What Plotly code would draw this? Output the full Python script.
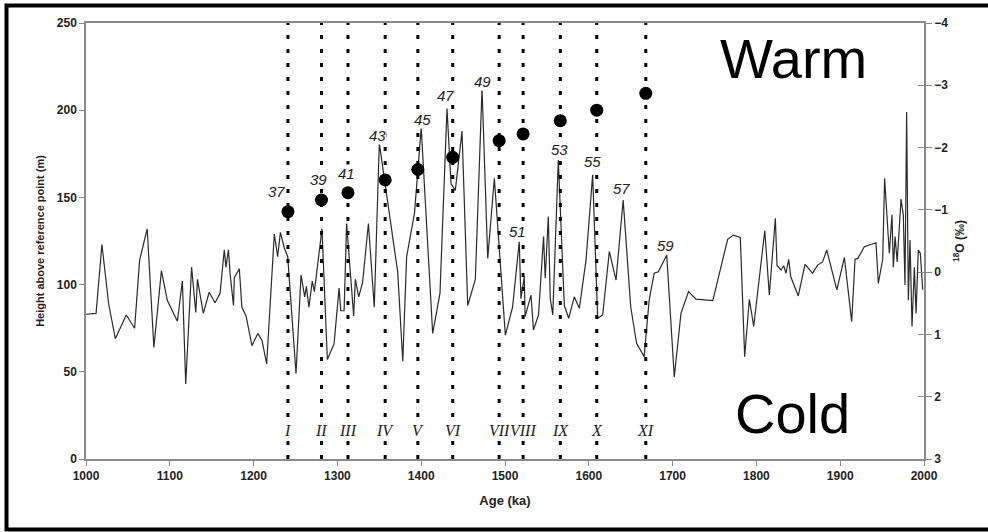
import plotly.graph_objects as go

# ---- data ----
age = [1000, 1012, 1019, 1027, 1035, 1048, 1058, 1064, 1073, 1081, 1090, 1097, 1109, 1115, 1119,
       1126, 1131, 1133, 1140, 1147, 1154, 1160, 1165, 1167, 1170, 1172, 1176, 1177, 1183, 1186,
       1191, 1198, 1205, 1210, 1215.6, 1224.7, 1228.7, 1232, 1236.6, 1240.7, 1250.6, 1256.6, 1261,
       1263, 1266, 1270, 1272.5, 1274.5, 1279.6, 1281.6, 1288, 1296, 1302, 1304, 1308, 1311, 1319.4,
       1321.4, 1325.4, 1330, 1337, 1344, 1350, 1372, 1378, 1382.6, 1392, 1400, 1413.7, 1422.4,
       1430.8, 1435.6, 1440.7, 1448.7, 1455.5, 1464.6, 1472.6, 1479.4, 1487.3, 1500.4, 1509, 1517,
       1519, 1523, 1524, 1531, 1534, 1540, 1546, 1548, 1551.7, 1554, 1557, 1563.6, 1570.8, 1576,
       1582.7, 1588.7, 1596.7, 1604.6, 1610.6, 1616.6, 1624.5, 1632.5, 1641, 1650, 1657, 1666, 1672,
       1678, 1683, 1693, 1702, 1710, 1719, 1728, 1748, 1765.7, 1772.5, 1780.8, 1786, 1791.6, 1796.8,
       1810, 1815.4, 1822.6, 1824.6, 1829.4, 1832.6, 1835.3, 1838.5, 1841, 1850, 1858, 1867, 1873,
       1879, 1884, 1896, 1905, 1913.7, 1917.7, 1921, 1928.8, 1942.7, 1945.5, 1950.7, 1953, 1958.6,
       1961.8, 1963.4, 1965.5, 1968, 1972.6, 1975.3, 1977.3, 1979.3, 1981.3, 1983.3, 1985.7, 1988.5,
       1990.5, 1993.2, 1995.6, 1998.5]
height = [83, 83.5, 123, 89, 69, 82.6, 75, 114, 132, 64, 108, 91, 79, 102, 43,
          110, 84, 103, 83.5, 95.6, 89.6, 95, 120, 110, 120, 106, 88, 104, 109, 87,
          82, 65, 72, 68, 54.5, 129, 116, 130, 121, 116, 49, 105.5, 93,
          99, 87, 102, 96, 103, 124, 132, 57, 66, 98, 85, 85, 135, 82,
          103, 93, 101, 135, 87, 181, 107, 56, 116, 141, 190, 72, 95,
          201, 158, 154, 188, 88, 103, 212.5, 115, 161, 71, 87, 124.6,
          92, 104.5, 81.6, 94, 74, 82.6, 127.5, 103.6, 139, 92, 82.6, 171.4, 88, 80.7,
          93, 86.4, 114, 163, 80.7, 82.6, 119, 102.6, 148.5, 87.3, 66.3, 58.7, 91,
          106.5, 107.4, 117, 47, 83.5, 96, 91.7, 90.8, 126, 128.4, 127, 58.7, 91.6, 76,
          131, 94, 138, 111, 108.4, 110.8, 106.5, 114.5, 104.5, 93.5, 111.6, 106.5, 111.2,
          113, 119.8, 97, 115.6, 78.7, 114.5, 115, 121.7, 124, 100.7, 114.5, 161, 118,
          140, 110, 127.5, 113, 149, 140, 99.8, 199, 91, 125.6, 76, 110,
          83.5, 119.8, 118, 97]

terrace_age = [1241, 1281, 1312.6, 1357, 1396, 1437.6, 1493, 1521.6, 1566, 1609.5, 1668]
terrace_height = [141.8, 148.5, 152.7, 160, 166, 173, 182.5, 186.4, 194, 200, 209.7]
terrace_roman = ["I", "II", "III", "IV", "V", "VI", "VII", "VIII", "IX", "X", "XI"]

mis_label = ["37", "39", "41", "43", "45", "47", "49", "51", "53", "55", "57", "59"]
mis_age = [1227, 1277.7, 1311, 1348, 1401.7, 1428.8, 1472.6, 1515, 1565, 1604, 1639, 1691]
mis_height = [153.3, 160.5, 163.8, 185.7, 194.4, 208.7, 216.4, 130.3, 177.2, 170.6, 155.2, 122.7]

left_ticks = [0, 50, 100, 150, 200, 250]
right_ticks = [-4, -3, -2, -1, 0, 1, 2, 3]
x_ticks = [1000, 1100, 1200, 1300, 1400, 1500, 1600, 1700, 1800, 1900, 2000]

# ---- figure ----
W, H = 988, 532
ML, MR, MT, MB = 86, 64, 23, 73
PW, PH = W - ML - MR, H - MT - MB
AXC = "#8a8a8a"
SANS = "Liberation Sans, Arial, sans-serif"

fig = go.Figure()

fig.add_trace(go.Scatter(x=age, y=height, mode="lines",
                         line=dict(color="#2a2a2a", width=1.2),
                         hoverinfo="skip", showlegend=False))

fig.add_trace(go.Scatter(x=terrace_age, y=terrace_height, mode="markers",
                         marker=dict(color="black", size=13),
                         showlegend=False))

# invisible traces to bind the right-hand d18O axes
fig.add_trace(go.Scatter(x=[1000], y=[0], yaxis="y2", mode="markers",
                         marker=dict(opacity=0), showlegend=False, hoverinfo="skip"))
fig.add_trace(go.Scatter(x=[1000], y=[0], yaxis="y3", mode="markers",
                         marker=dict(opacity=0), showlegend=False, hoverinfo="skip"))

for a, r in zip(terrace_age, terrace_roman):
    fig.add_shape(type="line", xref="x", yref="paper", x0=a, x1=a, y0=0, y1=1,
                  line=dict(color="black", width=3, dash="4px,10px"), layer="above")
    fig.add_annotation(x=a, y=16.6, xref="x", yref="y", text=r, showarrow=False,
                       font=dict(family="Liberation Serif, Times New Roman, serif",
                                 size=16, color="#222222", style="italic"),
                       bgcolor="white", borderpad=0, xanchor="center", yanchor="middle")

for t, a, h in zip(mis_label, mis_age, mis_height):
    fig.add_annotation(x=a, y=h, xref="x", yref="y", text=t, showarrow=False,
                       font=dict(family=SANS, size=15, color="#222222", style="italic"),
                       bgcolor="white", borderpad=0, xanchor="center", yanchor="middle")

fig.add_annotation(x=(793 - ML) / PW, y=(H - MB - 58) / PH, xref="paper", yref="paper",
                   text="Warm", showarrow=False,
                   font=dict(family=SANS, size=56, color="black"),
                   xanchor="center", yanchor="middle")
fig.add_annotation(x=(792 - ML) / PW, y=(H - MB - 413) / PH, xref="paper", yref="paper",
                   text="Cold", showarrow=False,
                   font=dict(family=SANS, size=56, color="black"),
                   xanchor="center", yanchor="middle")

# outer black frame
fig.add_shape(type="rect", xref="paper", yref="paper",
              x0=(6.5 - ML) / PW, x1=(996 - ML) / PW,
              y0=(H - MB - 529.5) / PH, y1=(H - MB - 5.5) / PH,
              line=dict(color="black", width=4), fillcolor="rgba(0,0,0,0)")

tickfont = dict(family=SANS, size=12, color="#222222", weight="bold")

fig.update_layout(
    width=W, height=H,
    margin=dict(l=ML, r=MR, t=MT, b=MB),
    paper_bgcolor="white", plot_bgcolor="white",
    showlegend=False,
    xaxis=dict(range=[1000, 2000], tickvals=x_ticks, ticks="outside", ticklen=5,
               tickcolor=AXC, showline=True, linecolor=AXC, linewidth=1.5, mirror=True,
               showgrid=False, zeroline=False, tickfont=tickfont,
               title=dict(text="Age (ka)", font=dict(family=SANS, size=13, color="#222222",
                                                     weight="bold"), standoff=14)),
    yaxis=dict(range=[0, 250], tickvals=left_ticks, ticks="outside", ticklen=5,
               tickcolor=AXC, showline=True, linecolor=AXC, linewidth=1.5,
               showgrid=False, zeroline=False, tickfont=tickfont,
               title=dict(text="Height above reference point (m)",
                          font=dict(family=SANS, size=11, color="#222222", weight="bold"),
                          standoff=10)),
    yaxis2=dict(overlaying="y", side="right", range=[3, -4], tickvals=right_ticks,
                ticks="outside", ticklen=6, tickcolor=AXC, showline=True, linecolor=AXC,
                linewidth=1.5, showgrid=False, zeroline=False, tickfont=tickfont,
                title=dict(text="<sup>18</sup>O (‰)",
                           font=dict(family=SANS, size=12, color="#222222", weight="bold"),
                           standoff=8)),
    yaxis3=dict(overlaying="y", side="right", range=[3, -4], tickvals=right_ticks,
                ticks="inside", ticklen=6, tickcolor=AXC, showline=False,
                showgrid=False, zeroline=False, showticklabels=False),
)

fig.write_html("out.html")
